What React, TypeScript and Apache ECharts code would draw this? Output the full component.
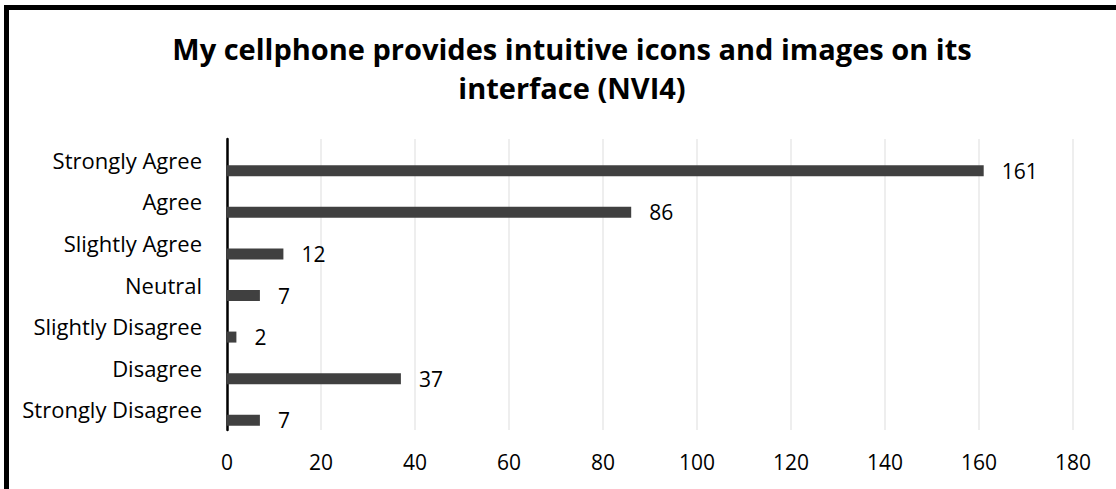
import React, { useEffect, useRef } from "react";
import * as echarts from "echarts";

const titleLines = ["My cellphone provides intuitive icons and images on its", "interface (NVI4)"];
const categories = [
  "Strongly Agree",
  "Agree",
  "Slightly Agree",
  "Neutral",
  "Slightly Disagree",
  "Disagree",
  "Strongly Disagree",
];
const values = [161, 86, 12, 7, 2, 37, 7];
const axisMin = 0;
const axisMax = 180;
const axisStep = 20;

const FONT = "'Open Sans', sans-serif";

export default function App() {
  const ref = useRef<HTMLDivElement>(null);
  useEffect(() => {
    if (!ref.current) return;
    const chart = echarts.init(ref.current, null, { renderer: "svg" });
    chart.setOption({
      animation: false,
      backgroundColor: "#ffffff",
      textStyle: { fontFamily: FONT },
      title: {
        text: titleLines.join("\n"),
        left: 567,
        top: 24,
        textAlign: "center",
        textStyle: {
          fontFamily: FONT,
          fontWeight: "bold",
          fontSize: 29,
          lineHeight: 39,
          color: "#000000",
        },
      },
      graphic: [
        {
          type: "rect",
          shape: { x: 6.5, y: 7.5, width: 2000, height: 2000 },
          style: { fill: "none", stroke: "#000000", lineWidth: 5 },
          silent: true,
          z: 100,
        },
      ],
      grid: { left: 227, right: 43, top: 139, bottom: 59, containLabel: false },
      xAxis: {
        type: "value",
        min: axisMin,
        max: axisMax,
        interval: axisStep,
        axisLine: { show: false },
        axisTick: { show: false },
        splitLine: { show: true, lineStyle: { color: "#e8e8e8", width: 1.5 } },
        axisLabel: { color: "#000000", fontSize: 21, fontFamily: FONT, margin: 21 },
      },
      yAxis: {
        type: "category",
        inverse: true,
        data: categories,
        axisLine: { show: true, lineStyle: { color: "#000000", width: 2.5 } },
        axisTick: { show: false },
        axisLabel: {
          color: "#000000",
          fontSize: 22,
          fontFamily: FONT,
          margin: 25,
        },
      },
      series: [
        {
          type: "bar",
          data: categories.map(() => null),
          barWidth: 11,
          barGap: "100%",
          itemStyle: { color: "transparent" },
          silent: true,
        },
        {
          type: "bar",
          data: values,
          barWidth: 11,
          barGap: "100%",
          itemStyle: { color: "#404040" },
          label: {
            show: true,
            position: "right",
            distance: 18,
            color: "#000000",
            fontSize: 21,
            fontFamily: FONT,
          },
        },
      ],
    });
    return () => chart.dispose();
  }, []);
  return (
    <div
      ref={ref}
      style={{ position: "fixed", left: 0, top: 0, width: 1116, height: 489 }}
    />
  );
}
